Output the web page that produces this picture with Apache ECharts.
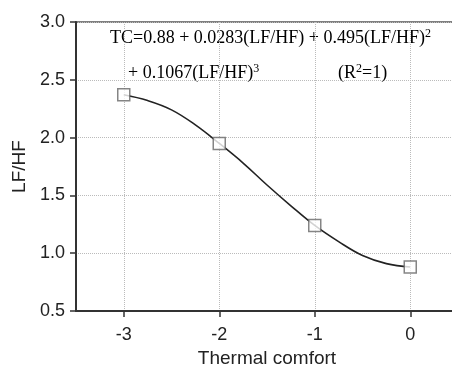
<!DOCTYPE html>
<html>
<head>
<meta charset="utf-8">
<script src="https://cdn.jsdelivr.net/npm/echarts@6/dist/echarts.min.js"></script>
<style>
  html, body { margin: 0; padding: 0; background: #fff; }
  #chart { width: 452px; height: 367px; }
</style>
</head>
<body>
<div id="chart"></div>
<script>
// Measured points: thermal comfort vote vs. LF/HF ratio
const comfortVotes = [-3, -2, -1, 0];
const lfhfValues = [2.37, 1.95, 1.24, 0.88];

// Fitted cubic curve, sampled along the thermal comfort axis
const curveX = [-3, -2.75, -2.5, -2.25, -2, -1.75, -1.5, -1.25, -1, -0.75, -0.5, -0.25, 0];
const curveY = [2.37, 2.32, 2.24, 2.11, 1.95, 1.78, 1.59, 1.41, 1.24, 1.10, 0.98, 0.91, 0.88];

const xTicks = [-3, -2, -1, 0];
const yTicks = [0.5, 1.0, 1.5, 2.0, 2.5, 3.0];

const chart = echarts.init(document.getElementById('chart'), null, { renderer: 'canvas' });

const tickFont = {
  fontFamily: 'Liberation Sans, Arial, sans-serif',
  fontSize: 18,
  color: '#222'
};
const nameFont = {
  fontFamily: 'Liberation Sans, Arial, sans-serif',
  fontSize: 19,
  color: '#222'
};

const eqFont = 'Liberation Serif, Times New Roman, serif';
const eqRich = {
  t: { fontFamily: eqFont, fontSize: 18, color: '#222' },
  s: { fontFamily: eqFont, fontSize: 12, color: '#222', verticalAlign: 'top', padding: [0, 0, 9, 0] }
};

chart.setOption({
  animation: false,
  backgroundColor: '#fff',
  grid: {
    left: 76, right: -6, top: 22, bottom: 56,
    outerBoundsMode: 'none',
    containLabel: false,
    show: true, borderColor: '#555', borderWidth: 1.5
  },
  xAxis: {
    type: 'value',
    min: -3.5, max: 0.5,
    name: 'Thermal comfort',
    nameLocation: 'middle',
    nameGap: 36,
    nameTextStyle: nameFont,
    axisLine: { show: true, onZero: false, lineStyle: { color: '#333', width: 2 } },
    axisTick: { show: true, length: 6, customValues: xTicks, lineStyle: { color: '#333', width: 1.5 } },
    axisLabel: Object.assign({ margin: 15, customValues: xTicks, formatter: v => String(v) }, tickFont),
    splitLine: { show: true, lineStyle: { color: '#bbb', type: 'dotted', width: 1 } }
  },
  yAxis: {
    type: 'value',
    min: yTicks[0], max: yTicks[yTicks.length - 1],
    interval: 0.5,
    name: 'LF/HF',
    nameLocation: 'middle',
    nameGap: 42,
    nameRotate: 90,
    nameTextStyle: nameFont,
    axisLine: { show: true, onZero: false, lineStyle: { color: '#333', width: 2 } },
    axisTick: { show: true, length: 6, lineStyle: { color: '#333', width: 1.5 } },
    axisLabel: Object.assign({ margin: 11, formatter: v => v.toFixed(1) }, tickFont),
    splitLine: { show: true, lineStyle: { color: '#bbb', type: 'dotted', width: 1 } }
  },
  series: [
    {
      type: 'line',
      data: curveX.map((x, i) => [x, curveY[i]]),
      smooth: 0.4,
      showSymbol: false,
      lineStyle: { color: '#222', width: 1.6 },
      z: 2
    },
    {
      type: 'scatter',
      data: comfortVotes.map((x, i) => [x, lfhfValues[i]]),
      symbol: 'rect',
      symbolSize: 12,
      itemStyle: { color: '#fff', borderColor: '#666', borderWidth: 1.5 },
      z: 3
    }
  ],
  graphic: [
    {
      type: 'text', left: 110, top: 28,
      style: {
        text: '{t|TC=0.88 + 0.0283(LF/HF) + 0.495(LF/HF)}{s|2}',
        rich: eqRich
      }
    },
    {
      type: 'text', left: 128, top: 63,
      style: {
        text: '{t|+ 0.1067(LF/HF)}{s|3}',
        rich: eqRich
      }
    },
    {
      type: 'text', left: 338, top: 63,
      style: {
        text: '{t|(R}{s|2}{t|=1)}',
        rich: eqRich
      }
    }
  ]
});
</script>
</body>
</html>
